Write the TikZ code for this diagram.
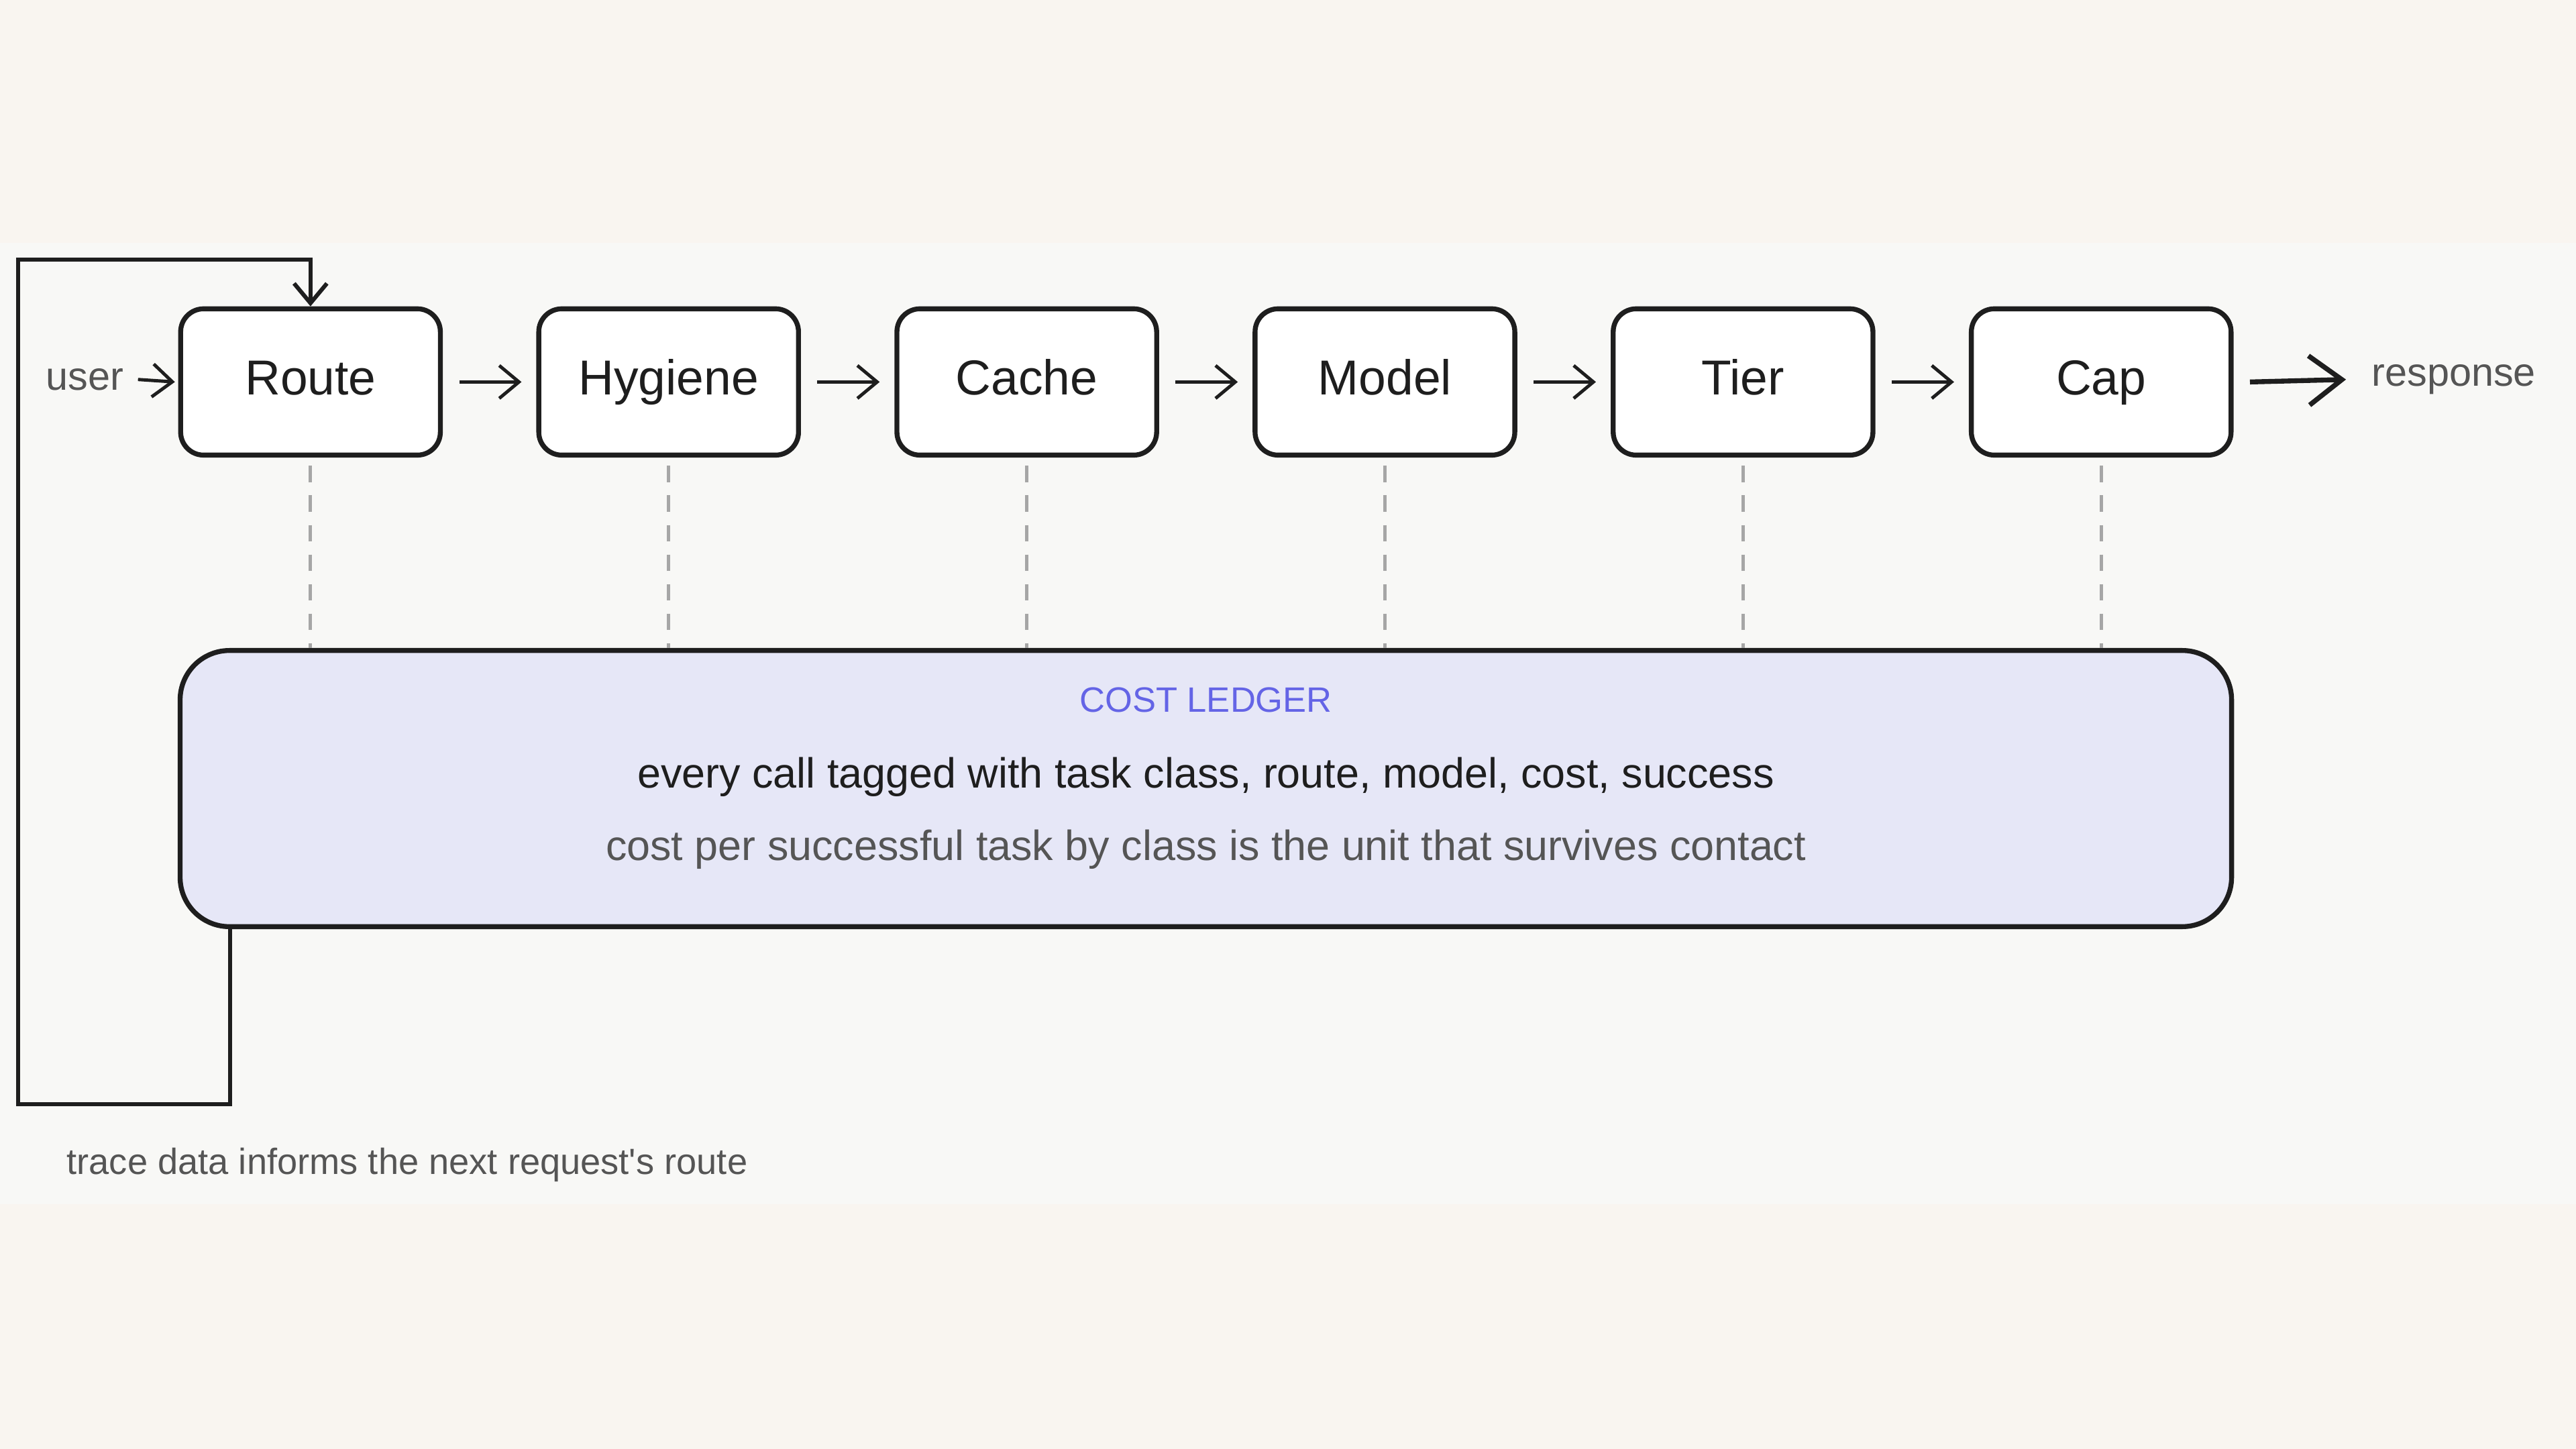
\documentclass[tikz,border=0pt]{standalone}
\usepackage{fontspec}
\setmainfont{Liberation Sans}
\usetikzlibrary{arrows.meta,calc}
\definecolor{outerbg}{HTML}{F9F5F0}
\definecolor{innerbg}{HTML}{F8F8F6}
\definecolor{ledger}{HTML}{E6E7F7}
\definecolor{ledgertitle}{HTML}{6464E6}
\definecolor{ink}{HTML}{1E1E1E}
\definecolor{greytxt}{HTML}{555555}
\tikzset{
  stage/.style={draw=ink, line width=0.3mm, fill=white, rounded corners=0.14cm, minimum width=1.58cm, minimum height=0.89cm, font=\fontsize{8.5}{10}\selectfont, text=ink, inner sep=0, text height=6.2pt, text depth=1.8pt},
  flow/.style={draw=ink, line width=0.2mm, -{Straight Barb[length=1.2mm,width=2mm]}},
  tie/.style={draw=gray!70, line width=0.2mm, dash pattern=on 1mm off 0.8mm},
  side/.style={font=\fontsize{6.9}{8}\selectfont, text=greytxt, inner sep=0}
}
\begin{document}
\begin{tikzpicture}[x=0.01cm,y=-0.01cm]
\fill[outerbg] (0,0) rectangle (1568,882);
\fill[innerbg] (0,148) rectangle (1568,733);
\useasboundingbox (0,0) rectangle (1568,882);
\foreach \n/\t/\x in {r/Route/189,h/Hygiene/407,c/Cache/625,m/Model/843,t/Tier/1061,p/Cap/1279}{
  \node[stage] (\n) at (\x,232.5) {\t};
}
\node[draw=ink, line width=0.3mm, fill=ledger, rounded corners=0.3cm, minimum width=12.48cm, minimum height=1.68cm] (led) at (734,480) {};
\node[font=\fontsize{6.1}{7}\selectfont, text=ledgertitle] (lt) at (734,426) {COST LEDGER};
\node[font=\fontsize{7.3}{8}\selectfont, text=ink] (l1) at (734,473) {every call tagged with task class, route, model, cost, success};
\node[font=\fontsize{7.3}{8}\selectfont, text=greytxt] (l2) at (734,517) {cost per successful task by class is the unit that survives contact};
\node[side, anchor=east] (user) at (76,231) {user};
\node[side, anchor=west] (resp) at (1443,231) {response};
\node[font=\fontsize{6.3}{7}\selectfont, text=greytxt, anchor=west, inner sep=0] (cap2) at (40,709) {trace data informs the next request\textquotesingle s route};
\draw[flow] ($(user.east)+(8,0)$) -- ($(r.west)+(-2,0)$);
\foreach \a/\b in {r/h,h/c,c/m,m/t,t/p}{
  \draw[flow] ($(\a.east)+(10,0)$) -- ($(\b.west)+(-9,0)$);
}
\draw[flow, line width=0.3mm, -{Straight Barb[length=2mm,width=3mm]}] ($(p.east)+(10,0)$) -- ($(resp.west)+(-15,0)$);
\foreach \n in {r,h,c,m,t,p}{
  \draw[tie] ($(\n.south)+(0,5)$) -- (\n.south |- led.north);
}
\coordinate (a) at (140,564);
\draw[flow, line width=0.25mm] (a) -- (140,672) -- (11,672) -- (11,158) -- (189,158) -- (r.north);
\end{tikzpicture}
\end{document}
